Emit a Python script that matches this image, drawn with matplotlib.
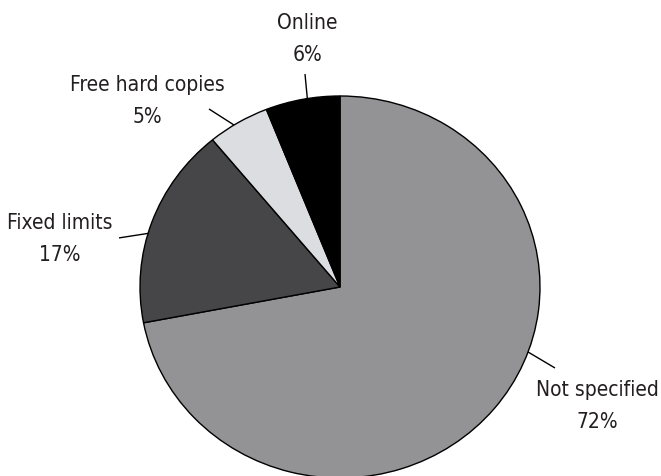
import numpy as np
import matplotlib
matplotlib.use("Agg")
import matplotlib.pyplot as plt
from matplotlib import font_manager

# Distribution of the source, clockwise from 12 o'clock
labels = ["Not specified", "Fixed limits", "Free hard copies", "Online"]
shares = [72, 17, 5, 6]
colors = ["#939396", "#464648", "#dcdde0", "#000000"]

# leader line: angle where it touches the rim, outer end, label centre (data units)
rim_angle = [-19.9, 163.7, 122.0, 99.4]
line_end = [(1.075, -0.424), (-1.105, 0.257), (-0.655, 0.932), (-0.175, 1.115)]
text_pos = [(1.285, -0.62), (-1.40, 0.254), (-0.965, 0.979), (-0.165, 1.304)]


def condensed_font():
    # regular-weight Roboto Condensed if it is around, else plain DejaVu
    cands = [f for f in font_manager.fontManager.ttflist
             if f.name == "Roboto" and f.stretch == "condensed" and f.style == "normal"]
    if cands:
        best = min(cands, key=lambda f: abs(int(f.weight) - 400) if str(f.weight).isdigit() else 999)
        return font_manager.FontProperties(fname=best.fname, size=16.5)
    return font_manager.FontProperties(family="DejaVu Sans", stretch="condensed", size=15)


fp = condensed_font()

fig = plt.figure(figsize=(6.61, 4.77), dpi=100)
ax = fig.add_axes([140 / 661, -2 / 477, 400 / 661, 382 / 477])

ax.pie(shares, colors=colors, startangle=90, counterclock=False,
       wedgeprops=dict(edgecolor="black", linewidth=1.0))
ax.set_aspect("auto")
ax.set_xlim(-1, 1)
ax.set_ylim(-1, 1)
ax.axis("off")

for lab, val, ang, end, pos in zip(labels, shares, rim_angle, line_end, text_pos):
    a = np.deg2rad(ang)
    rim = (np.cos(a), np.sin(a))
    ax.plot([rim[0], end[0]], [rim[1], end[1]], color="black", lw=1.0,
            clip_on=False, solid_capstyle="butt")
    ax.text(pos[0], pos[1], "%s\n%d%%" % (lab, val), ha="center", va="center",
            fontproperties=fp, color="#231f20", linespacing=1.75, clip_on=False)

fig.savefig("out.png", dpi=100)
